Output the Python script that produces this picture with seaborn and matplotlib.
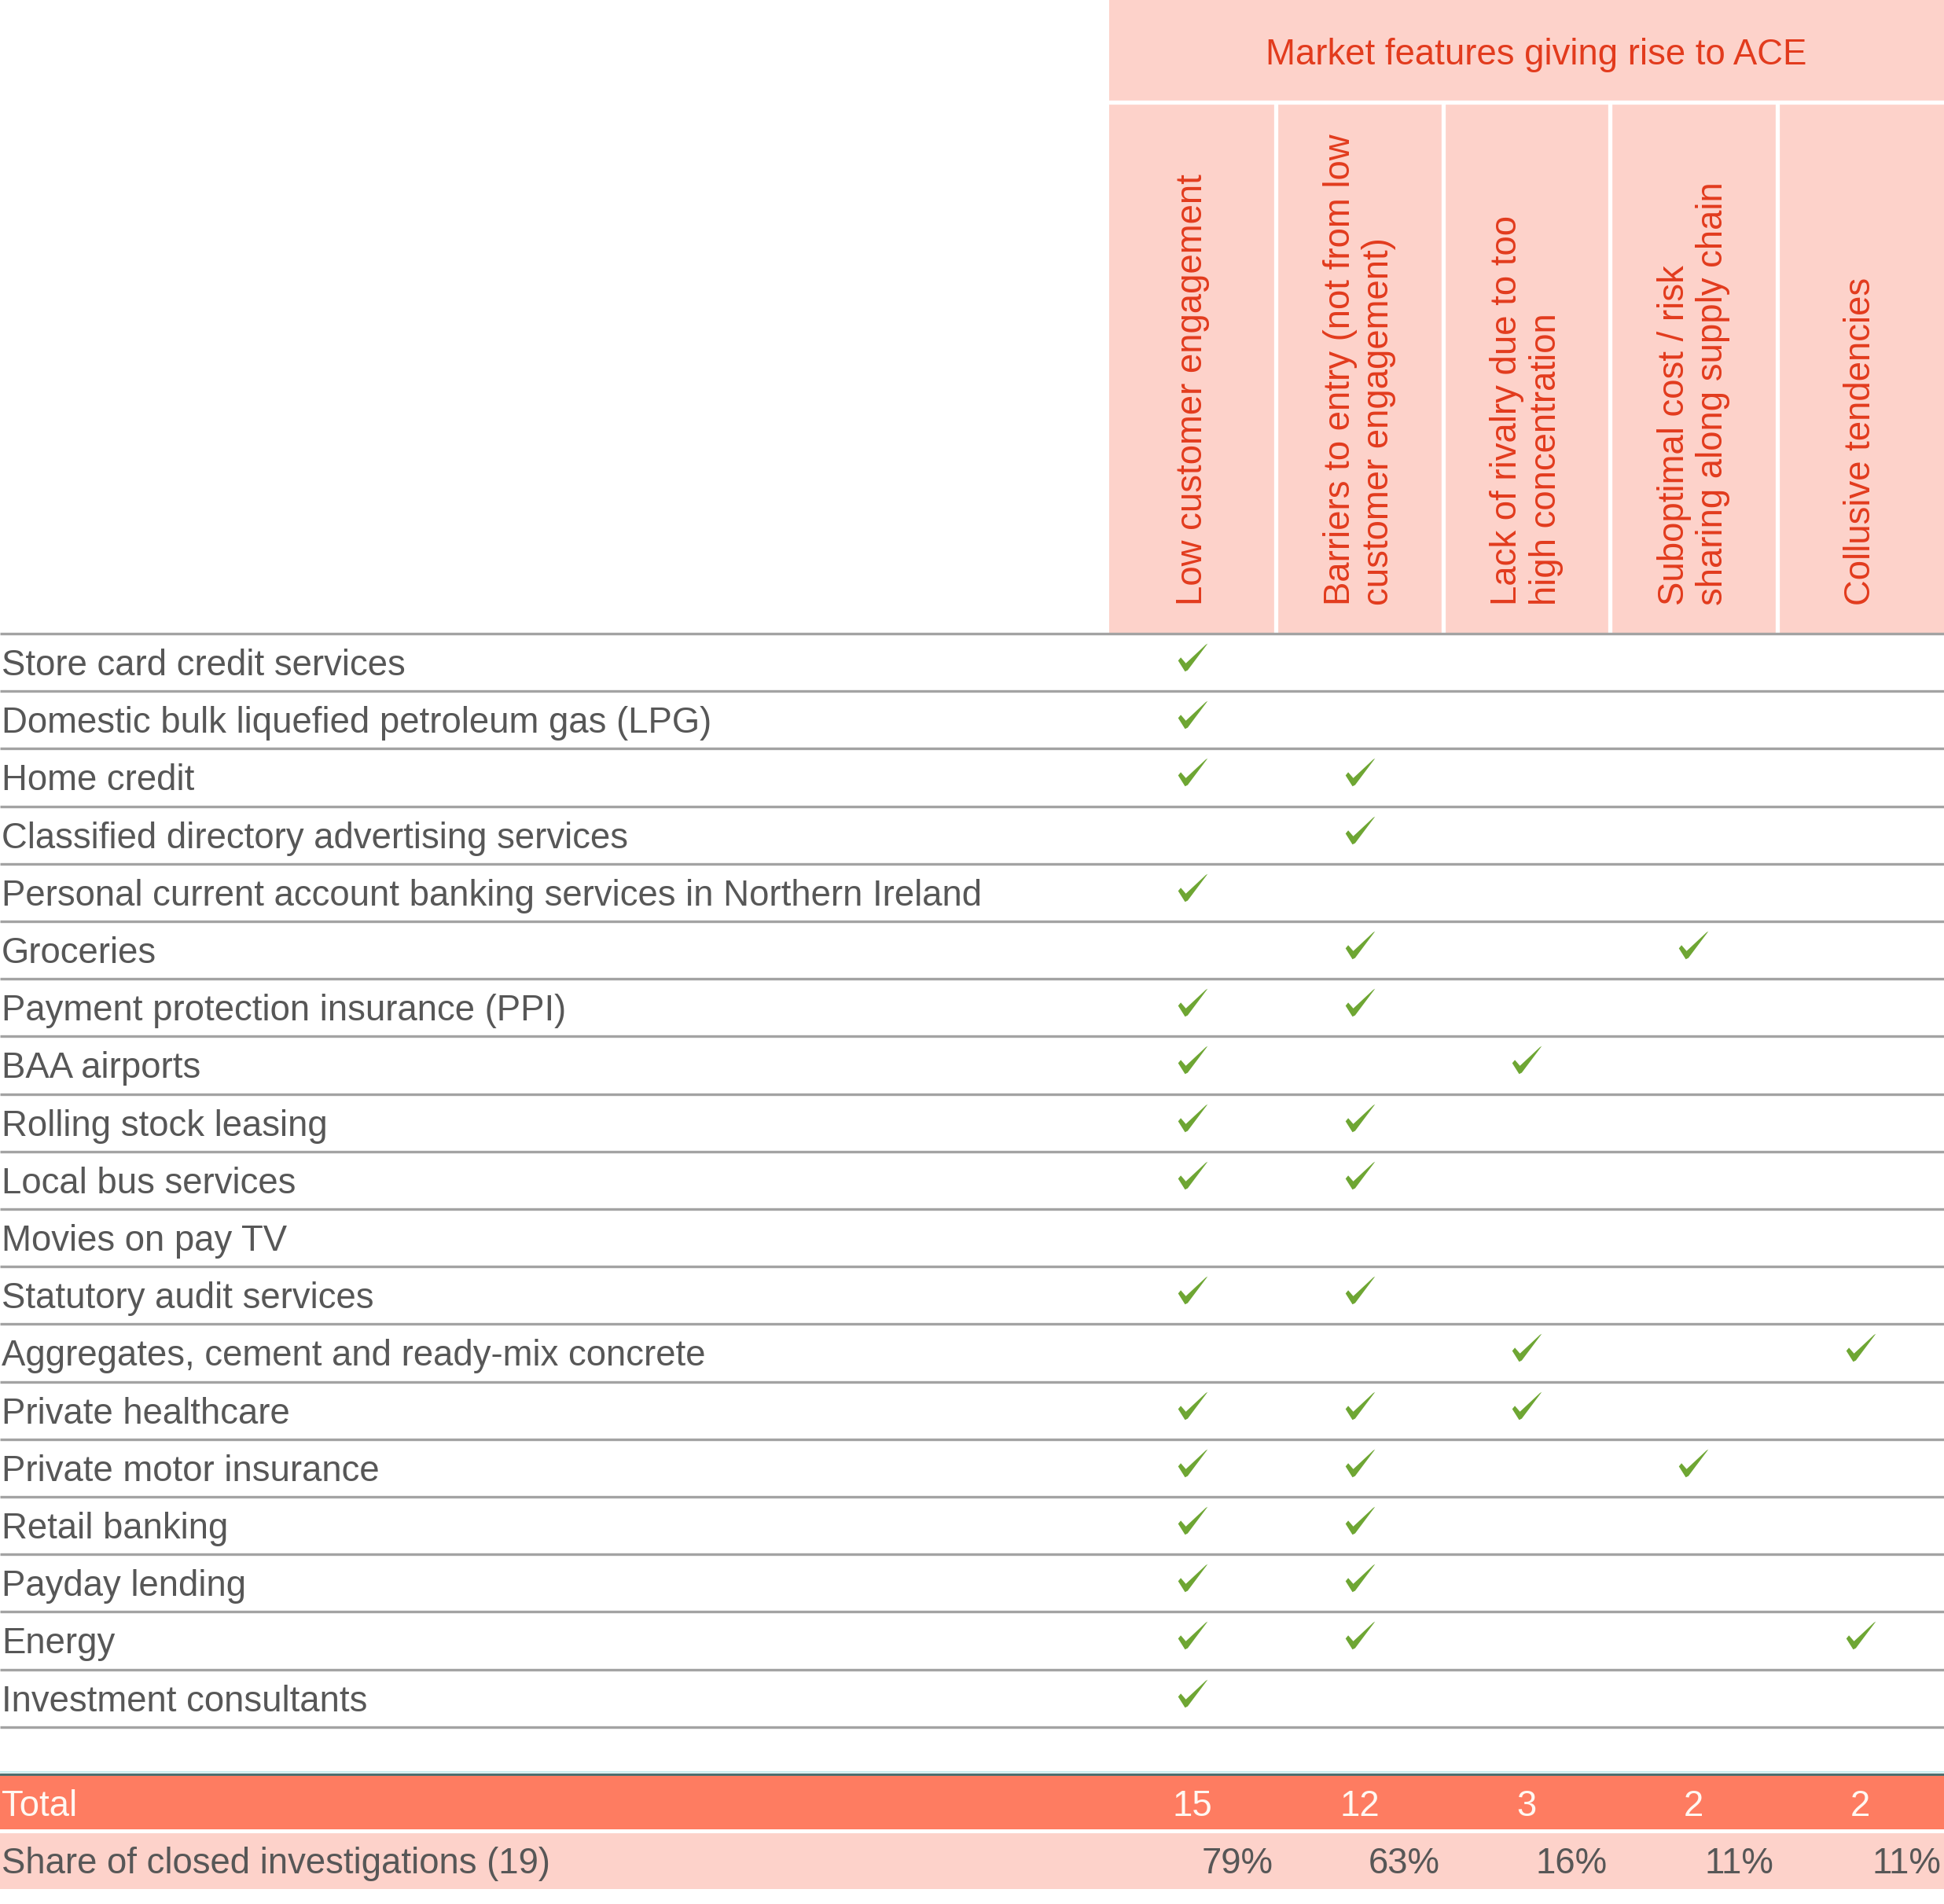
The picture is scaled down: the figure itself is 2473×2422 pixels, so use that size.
import matplotlib
matplotlib.use("Agg")
import matplotlib.pyplot as plt
from matplotlib.path import Path
from matplotlib.patches import Rectangle
import pandas as pd
import seaborn as sns

sns.set_style("white")
plt.rcParams["font.family"] = ["Liberation Sans", "DejaVu Sans"]

markets = [
    "Store card credit services",
    "Domestic bulk liquefied petroleum gas (LPG)",
    "Home credit",
    "Classified directory advertising services",
    "Personal current account banking services in Northern Ireland",
    "Groceries",
    "Payment protection insurance (PPI)",
    "BAA airports",
    "Rolling stock leasing",
    "Local bus services",
    "Movies on pay TV",
    "Statutory audit services",
    "Aggregates, cement and ready-mix concrete",
    "Private healthcare",
    "Private motor insurance",
    "Retail banking",
    "Payday lending",
    "Energy",
    "Investment consultants",
]
features = [
    "Low customer engagement",
    "Barriers to entry (not from low\ncustomer engagement)",
    "Lack of rivalry due to too\nhigh concentration",
    "Suboptimal cost / risk\nsharing along supply chain",
    "Collusive tendencies",
]
# which feature columns are ticked for each market (same order as markets)
ticks = [
    [0], [0], [0, 1], [1], [0], [1, 3], [0, 1], [0, 2], [0, 1], [0, 1],
    [], [0, 1], [2, 4], [0, 1, 2], [0, 1, 3], [0, 1], [0, 1], [0, 1, 4], [0],
]
totals = [15, 12, 3, 2, 2]
shares = ["79%", "63%", "16%", "11%", "11%"]
header_title = "Market features giving rise to ACE"

# colours
PINK = "#FDD2CA"
RED_TXT = "#E23B1D"
SALMON = "#FE7C61"
GREEN = "#6EA633"
GREY_TXT = "#575757"
LINE = "#A3A3A3"

# layout (pixels of the 2473x2422 canvas)
W, H = 2473, 2422
X0, CW = 1411, 212.4    # left edge of feature grid, column width
Y0, RH = 806, 73.2      # top of first market row, row height


def dx(px):
    return (px - X0) / CW - 0.5


def dy(py):
    return (py - Y0) / RH - 0.5


fig = plt.figure(figsize=(W / 100, H / 100), dpi=100)
ax = fig.add_axes([0, 0, 1, 1])

FS = 32.8

# header block
ax.add_patch(Rectangle((-0.5, dy(0)), dx(W) + 0.5, dy(806) - dy(0),
                       color=PINK, lw=0, zorder=0))
ax.plot([-0.5, dx(W)], [dy(130.5), dy(130.5)], color="white", lw=3.8, zorder=1)
for j in range(len(features) - 1):
    ax.plot([j + 0.5, j + 0.5], [dy(130), dy(806)], color="white", lw=3.8, zorder=1)
ax.text(dx(1954), dy(82), header_title, ha="center", va="baseline",
        color=RED_TXT, fontsize=FS, zorder=2)
for j, f in enumerate(features):
    ax.text(j, dy(770), f, rotation=90, ha="center", va="bottom",
            multialignment="left", linespacing=1.15, color=RED_TXT,
            fontsize=FS, zorder=2)

# market rows
for i, m in enumerate(markets):
    ax.text(dx(2), i + 0.223, m, ha="left", va="baseline", color=GREY_TXT,
            fontsize=FS, zorder=2)
for i in range(-1, len(markets)):
    ax.plot([dx(0), dx(W)], [i + 0.5, i + 0.5], color=LINE, lw=2.4, zorder=3,
            solid_capstyle="butt")

# check marks via seaborn
check_verts = [(-55.5, -11.5), (-45.5, 0.5), (-26.5, -21.5), (48.5, 48.5),
               (55.5, 52.5), (-19.5, -47.5), (-29.5, -52.5), (-55.5, -11.5)]
check_codes = [Path.MOVETO] + [Path.LINETO] * 6 + [Path.CLOSEPOLY]
check_marker = Path(check_verts, check_codes)

df = pd.DataFrame(
    [(j, i) for i, cols in enumerate(ticks) for j in cols],
    columns=["feature", "market"],
)
df["y"] = df["market"] - 0.09
sns.scatterplot(data=df, x="feature", y="y", marker=check_marker, s=730,
                color=GREEN, linewidth=0, legend=False, ax=ax, zorder=4)

# total and share rows
ax.plot([dx(0), dx(W)], [dy(2254), dy(2254)], color="#C8ECF0", lw=1.5, zorder=3)
ax.plot([dx(0), dx(W)], [dy(2256.5), dy(2256.5)], color="#4C6F70", lw=2.2, zorder=3)
ax.add_patch(Rectangle((dx(0), dy(2258)), dx(W) - dx(0), dy(2327) - dy(2258),
                       color=SALMON, lw=0, zorder=0))
ax.add_patch(Rectangle((dx(0), dy(2332)), dx(W) - dx(0), dy(2403) - dy(2332),
                       color=PINK, lw=0, zorder=0))
ax.text(dx(2), dy(2310), "Total", ha="left", va="baseline", color="#FFF8F2",
        fontsize=FS, zorder=2)
ax.text(dx(2), dy(2383), "Share of closed investigations (19)", ha="left",
        va="baseline", color=GREY_TXT, fontsize=FS, zorder=2)
for j, (t, s) in enumerate(zip(totals, shares)):
    ax.text(j, dy(2310), str(t), ha="center", va="baseline", color="#FFF8F2",
            fontsize=FS, zorder=2)
    ax.text(j + 0.5 - 4 / CW, dy(2383), s, ha="right", va="baseline",
            color=GREY_TXT, fontsize=FS, zorder=2)

ax.set_xlim(dx(0), dx(W))
ax.set_ylim(dy(H), dy(0))
ax.axis("off")

fig.savefig("out.png", dpi=100, facecolor="white")
